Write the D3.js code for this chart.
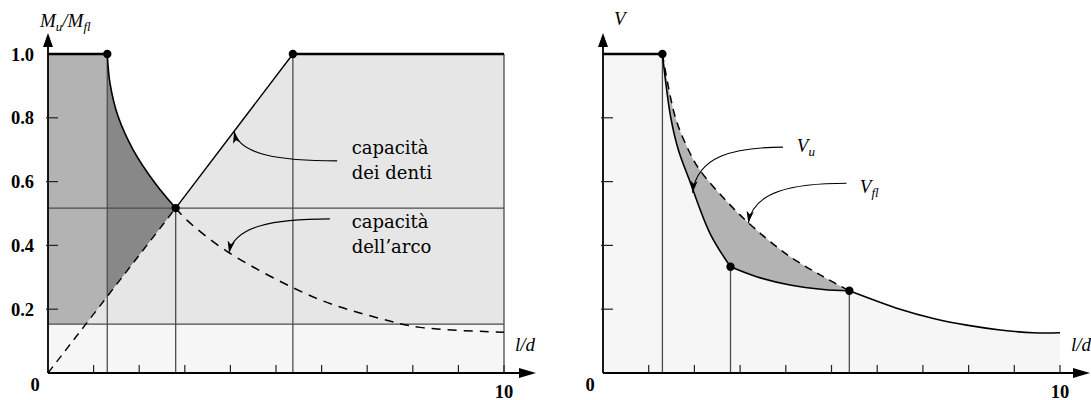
<!DOCTYPE html>
<html><head><meta charset="utf-8">
<script src="https://cdn.jsdelivr.net/npm/d3@7"></script>
<style>body{margin:0;background:#fff}</style>
</head><body>
<svg id="chart" width="1091" height="400"></svg>
<script>
// ---------- data ----------
const xTickValues = [1, 2, 3, 4, 5, 6, 7, 8, 9, 10];
const yTickValues = [0.2, 0.4, 0.6, 0.8];
const yLabelValues = [0.2, 0.4, 0.6, 0.8, 1.0];
const yTickLabels = ["0.2", "0.4", "0.6", "0.8", "1.0"];

// left panel: M_u / M_fl against l/d
const archKnee = 1.3;            // arch capacity starts to drop
const crossing = [2.8, 0.517];   // arch capacity = teeth capacity
const teethFull = 5.37;          // teeth reach full flexural capacity
const floorLevel = 0.153;
const teethCapacity = [[0, 0], [2.8, 0.517], [5.37, 1.0]];
const archCapacity = [[1.3, 1.0], [1.36, 0.908], [1.54, 0.803], [1.87, 0.699], [2.35, 0.595], [2.8, 0.517],
  [3.04, 0.48], [3.94, 0.38], [5.89, 0.234], [7.28, 0.171], [8.16, 0.143], [10, 0.128]];

// right panel: V against l/d
const vFlexure = [[1.3, 1.0], [1.58, 0.803], [1.87, 0.699], [2.12, 0.636], [2.78, 0.527], [3.36, 0.448],
  [4.09, 0.365], [4.82, 0.302], [5.39, 0.258]];
const vUltimateSteep = [[1.3, 1.0], [1.48, 0.803], [1.65, 0.699], [1.89, 0.605], [2.34, 0.438], [2.79, 0.333]];
const vUltimateFlat = [[2.79, 0.333], [3.36, 0.302], [4.09, 0.276], [4.82, 0.262], [5.39, 0.258]];
const vTail = [[5.39, 0.258], [6.5, 0.2], [7.23, 0.171], [7.96, 0.15], [8.69, 0.135], [9.41, 0.126], [10, 0.126]];

// ---------- scales ----------
const svg = d3.select("#chart");
const xL = d3.scaleLinear().domain([0, 10]).range([48, 504]);
const xR = d3.scaleLinear().domain([0, 10]).range([603, 1060]);
const y = d3.scaleLinear().domain([0, 1]).range([373, 54]);

const curveOf = xs => d3.line().x(d => xs(d[0])).y(d => y(d[1])).curve(d3.curveCatmullRom.alpha(0.5));
const straightOf = xs => d3.line().x(d => xs(d[0])).y(d => y(d[1]));
const asContinuation = p => "L" + p.slice(1);

// teeth capacity is piecewise linear
function teethAt(xv) {
  for (let i = 1; i < teethCapacity.length; i++) {
    const [x0, y0] = teethCapacity[i - 1], [x1, y1] = teethCapacity[i];
    if (xv <= x1) return y0 + (y1 - y0) * (xv - x0) / (x1 - x0);
  }
  return 1;
}
function teethXAt(yv) {
  for (let i = 1; i < teethCapacity.length; i++) {
    const [x0, y0] = teethCapacity[i - 1], [x1, y1] = teethCapacity[i];
    if (yv <= y1) return x0 + (x1 - x0) * (yv - y0) / (y1 - y0);
  }
  return teethFull;
}

const C = { veryLight: "#f6f6f6", light: "#e6e6e6", mid: "#b3b3b3", dark: "#888888", rule: "#4d4d4d" };

svg.append("defs").append("marker")
  .attr("id", "head").attr("markerUnits", "userSpaceOnUse")
  .attr("markerWidth", 14).attr("markerHeight", 10)
  .attr("viewBox", "-12 -5 14 10").attr("refX", 0).attr("refY", 0).attr("orient", "auto")
  .append("path").attr("d", "M0,0 L-12,-3.6 L-9,0 L-12,3.6 Z").attr("fill", "#000");

// ================= LEFT PANEL =================
const gL = svg.append("g");
const lineL = curveOf(xL), polyL = straightOf(xL);
const xFloor = teethXAt(floorLevel);
const teethAtKnee = teethAt(archKnee);
const archSolid = archCapacity.filter(d => d[0] <= crossing[0]);
const archDashed = archCapacity.filter(d => d[0] >= crossing[0]);

// regions
gL.append("rect").attr("x", xL(0)).attr("y", y(floorLevel)).attr("width", xL(10) - xL(0))
  .attr("height", y(0) - y(floorLevel)).attr("fill", C.veryLight);
gL.append("path").attr("fill", C.light)
  .attr("d", polyL([[xFloor, floorLevel], crossing, [teethFull, 1], [10, 1], [10, floorLevel]]) + "Z");
gL.append("path").attr("fill", C.mid)
  .attr("d", polyL([[0, floorLevel], [0, 1], [archKnee, 1], [archKnee, teethAtKnee], [xFloor, floorLevel]]) + "Z");
gL.append("path").attr("fill", C.dark)
  .attr("d", lineL(archSolid) + "L" + xL(archKnee) + "," + y(teethAtKnee) + "Z");

// reference rules
const rule = (g, x1, y1, x2, y2) => g.append("line").attr("x1", x1).attr("y1", y1).attr("x2", x2).attr("y2", y2)
  .attr("stroke", C.rule).attr("stroke-width", 1.3);
rule(gL, xL(0), y(floorLevel), xL(10), y(floorLevel));
rule(gL, xL(0), y(crossing[1]), xL(10), y(crossing[1]));
rule(gL, xL(archKnee), y(0), xL(archKnee), y(1));
rule(gL, xL(crossing[0]), y(0), xL(crossing[0]), y(crossing[1]));
rule(gL, xL(teethFull), y(0), xL(teethFull), y(1));
rule(gL, xL(10), y(0), xL(10), y(1));

// capacity curves
gL.append("path").attr("d", polyL([[0, 0], crossing])).attr("fill", "none").attr("stroke", "#000")
  .attr("stroke-width", 1.4).attr("stroke-dasharray", "8,6");
gL.append("path").attr("d", polyL([crossing, [teethFull, 1]])).attr("fill", "none").attr("stroke", "#000").attr("stroke-width", 1.4);
gL.append("path").attr("d", lineL(archSolid)).attr("fill", "none").attr("stroke", "#000").attr("stroke-width", 1.6);
gL.append("path").attr("d", lineL(archDashed)).attr("fill", "none").attr("stroke", "#000")
  .attr("stroke-width", 1.5).attr("stroke-dasharray", "9,7");
// full flexural capacity
gL.append("path").attr("d", polyL([[0, 1], [archKnee, 1]])).attr("stroke", "#000").attr("stroke-width", 2.6);
gL.append("path").attr("d", polyL([[teethFull, 1], [10, 1]])).attr("stroke", "#000").attr("stroke-width", 2.6);

gL.selectAll("circle").data([[archKnee, 1], crossing, [teethFull, 1]]).join("circle")
  .attr("cx", d => xL(d[0])).attr("cy", d => y(d[1])).attr("r", 4.2).attr("fill", "#000");

// ================= RIGHT PANEL =================
const gR = svg.append("g");
const lineR = curveOf(xR), polyR = straightOf(xR);
const rev = a => a.slice().reverse();

gR.append("path").attr("fill", C.veryLight)
  .attr("d", polyR([[0, 0], [0, 1], [archKnee, 1]]) + asContinuation(lineR(vUltimateSteep)) +
    asContinuation(lineR(vUltimateFlat)) + asContinuation(lineR(vTail)) + "L" + xR(10) + "," + y(0) + "Z");
gR.append("path").attr("fill", C.mid)
  .attr("d", lineR(vFlexure) + asContinuation(lineR(rev(vUltimateFlat))) + asContinuation(lineR(rev(vUltimateSteep))) + "Z");

const kinkA = vUltimateSteep[vUltimateSteep.length - 1];
const kinkB = vUltimateFlat[vUltimateFlat.length - 1];
rule(gR, xR(archKnee), y(0), xR(archKnee), y(1));
rule(gR, xR(kinkA[0]), y(0), xR(kinkA[0]), y(kinkA[1]));
rule(gR, xR(kinkB[0]), y(0), xR(kinkB[0]), y(kinkB[1]));

gR.append("path").attr("d", lineR(vFlexure)).attr("fill", "none").attr("stroke", "#000")
  .attr("stroke-width", 1.5).attr("stroke-dasharray", "8,6");
[vUltimateSteep, vUltimateFlat, vTail].forEach(seg =>
  gR.append("path").attr("d", lineR(seg)).attr("fill", "none").attr("stroke", "#000").attr("stroke-width", 1.6));
gR.append("path").attr("d", polyR([[0, 1], [archKnee, 1]])).attr("stroke", "#000").attr("stroke-width", 2.6);
gR.selectAll("circle").data([[archKnee, 1], kinkA, kinkB]).join("circle")
  .attr("cx", d => xR(d[0])).attr("cy", d => y(d[1])).attr("r", 4.2).attr("fill", "#000");

// ================= AXES =================
function axes(g, xs, tipX) {
  const x0 = xs(0), y0 = y(0), topY = y(1) - 21;
  g.append("line").attr("x1", x0).attr("y1", y0).attr("x2", x0).attr("y2", topY + 4)
    .attr("stroke", "#000").attr("stroke-width", 1.8);
  g.append("line").attr("x1", x0).attr("y1", y0).attr("x2", tipX - 4).attr("y2", y0)
    .attr("stroke", "#000").attr("stroke-width", 1.8);
  g.append("path").attr("d", `M${x0},${topY} L${x0 - 5},${topY + 14} L${x0 + 5},${topY + 14} Z`).attr("fill", "#000");
  g.append("path").attr("d", `M${tipX},${y0} L${tipX - 17},${y0 - 5} L${tipX - 17},${y0 + 5} Z`).attr("fill", "#000");
  g.selectAll(".xt").data(xTickValues).join("line")
    .attr("x1", d => xs(d)).attr("x2", d => xs(d)).attr("y1", y0).attr("y2", y0 - 8)
    .attr("stroke", "#222").attr("stroke-width", 1.2);
  g.selectAll(".yt").data(yTickValues).join("line")
    .attr("x1", x0 - 2).attr("x2", x0 + 10).attr("y1", d => y(d)).attr("y2", d => y(d))
    .attr("stroke", "#222").attr("stroke-width", 1.2);
}
const gAL = svg.append("g"), gAR = svg.append("g");
axes(gAL, xL, 536);
axes(gAR, xR, 1090);

const numFont = "'Liberation Serif', serif";
gAL.selectAll(".yl").data(yLabelValues).join("text")
  .attr("x", 34).attr("y", d => y(d) + 6.5).attr("text-anchor", "end")
  .attr("font-family", numFont).attr("font-weight", "bold").attr("font-size", 18.5)
  .text((d, i) => yTickLabels[i]);
[[gAL, xL], [gAR, xR]].forEach(([g, xs]) => {
  g.append("text").attr("x", xs(0) - 13).attr("y", 391).attr("text-anchor", "middle")
    .attr("font-family", numFont).attr("font-weight", "bold").attr("font-size", 18.5).text("0");
  g.append("text").attr("x", xs(10)).attr("y", 397.5).attr("text-anchor", "middle")
    .attr("font-family", numFont).attr("font-weight", "bold").attr("font-size", 18.5).text("10");
  g.append("text").attr("x", xs(10) + 11).attr("y", 351).attr("font-family", numFont)
    .attr("font-style", "italic").attr("font-size", 19).text("l/d");
});

// axis titles
const it = (g, x, yy) => g.append("text").attr("x", x).attr("y", yy).attr("font-family", numFont)
  .attr("font-style", "italic").attr("font-size", 19);
const tM = it(gAL, 40, 27);
tM.append("tspan").text("M");
tM.append("tspan").attr("font-size", 13).attr("dy", 4).text("u");
tM.append("tspan").attr("dy", -4).text("/M");
tM.append("tspan").attr("font-size", 13).attr("dy", 4).text("fl");
it(gAR, 614, 25).text("V");

// ================= ANNOTATIONS =================
const textFont = "'DejaVu Serif', serif";
function arrow(g, xs, from, to) {
  const sx = xs(from[0]), sy = y(from[1]), ex = xs(to[0]), ey = y(to[1]);
  const c1x = ex + 0.45 * (sx - ex), c2x = ex + 0.05 * (sx - ex), c2y = sy + 0.2 * (ey - sy);
  g.append("path").attr("d", `M${sx},${sy} C${c1x},${sy} ${c2x},${c2y} ${ex},${ey}`)
    .attr("fill", "none").attr("stroke", "#000").attr("stroke-width", 1.1).attr("marker-end", "url(#head)");
}
// teeth capacity
arrow(gL, xL, [6.34, 0.665], [4.08, teethAt(4.08)]);
gL.append("text").attr("x", xL(6.66)).attr("y", y(0.686)).attr("font-family", textFont).attr("font-size", 18).text("capacità");
gL.append("text").attr("x", xL(6.66)).attr("y", y(0.607)).attr("font-family", textFont).attr("font-size", 18).text("dei denti");
// arch capacity
arrow(gL, xL, [6.18, 0.483], [3.97, 0.376]);
gL.append("text").attr("x", xL(6.66)).attr("y", y(0.454)).attr("font-family", textFont).attr("font-size", 18).text("capacità");
gL.append("text").attr("x", xL(6.66)).attr("y", y(0.375)).attr("font-family", textFont).attr("font-size", 18).text("dell’arco");

// V_u and V_fl
arrow(gR, xR, [3.94, 0.708], [1.96, 0.565]);
arrow(gR, xR, [5.33, 0.595], [3.18, 0.47]);
const tVu = it(gR, xR(4.24), y(0.694));
tVu.append("tspan").text("V");
tVu.append("tspan").attr("font-size", 13).attr("dy", 4).text("u");
const tVfl = it(gR, xR(5.62), y(0.563));
tVfl.append("tspan").text("V");
tVfl.append("tspan").attr("font-size", 13).attr("dy", 4).text("fl");
</script>
</body></html>
